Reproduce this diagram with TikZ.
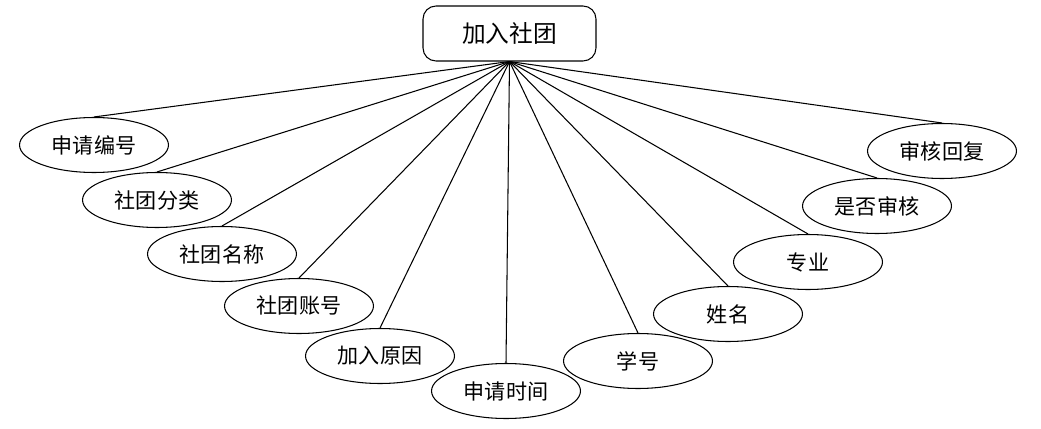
\documentclass[tikz,border=0pt]{standalone}
\usepackage{fontspec}
\setmainfont{Noto Sans CJK SC}
\usepackage{tikz}
\usetikzlibrary{shapes.geometric}

\begin{document}
\begin{tikzpicture}[
  x=0.02cm, y=-0.02cm,
  font=\fontsize{12}{14}\selectfont,
  line width=0.6pt,
  entity/.style={draw, rounded corners=0.26cm, minimum width=3.46cm, minimum height=1.1cm, inner sep=0pt, font=\fontsize{13.5}{16}\selectfont},
  attr/.style={draw, ellipse, minimum width=2.98cm, minimum height=1.1cm, inner sep=0pt}]
\useasboundingbox (0,0) rectangle (1041,429);
\node[entity] (join) at (509.5,33.5) {加入社团};
% attributes
\node[attr] (appno)   at (94,145)  {申请编号};
\node[attr] (cltype)  at (157,200) {社团分类};
\node[attr] (clname)  at (222,254) {社团名称};
\node[attr] (clacct)  at (299,306) {社团账号};
\node[attr] (reason)  at (380,356) {加入原因};
\node[attr] (apptime) at (506,391) {申请时间};
\node[attr] (stuno)   at (638,361) {学号};
\node[attr] (name)    at (728,314) {姓名};
\node[attr] (major)   at (808,262) {专业};
\node[attr] (audited) at (877,206) {是否审核};
\node[attr] (reply)   at (942,151) {审核回复};
\foreach \a in {appno,cltype,clname,clacct,reason,apptime,stuno,name,major,audited,reply}
  \draw (join.south) -- (\a.north);
\end{tikzpicture}
\end{document}
